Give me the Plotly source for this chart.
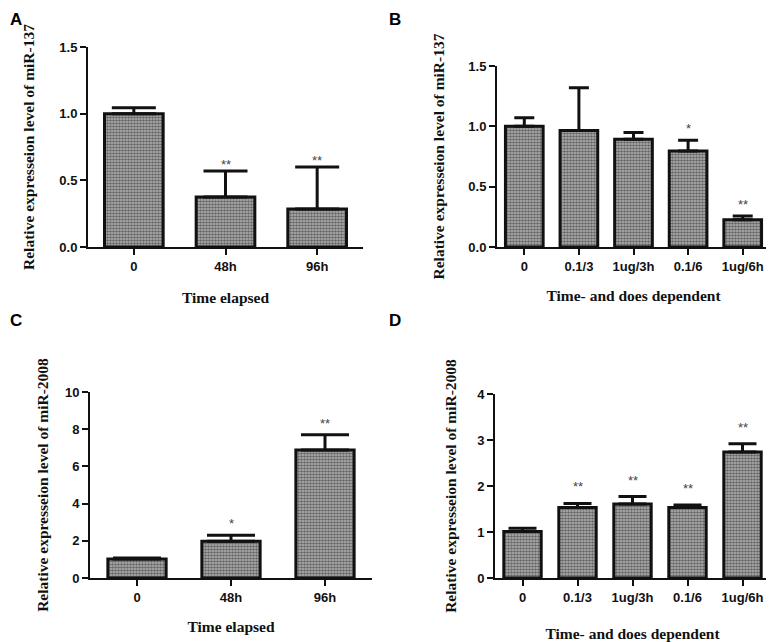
import plotly.graph_objects as go

# ---------------- data ----------------
time_labels = ["0", "48h", "96h"]
dose_labels = ["0", "0.1/3", "1ug/3h", "0.1/6", "1ug/6h"]

a_mean = [1.00, 0.375, 0.285]
a_err = [0.045, 0.195, 0.315]
a_stars = ["", "**", "**"]

b_mean = [1.00, 0.965, 0.893, 0.795, 0.225]
b_err = [0.072, 0.355, 0.055, 0.090, 0.032]
b_stars = ["", "", "", "*", "**"]

c_mean = [1.02, 1.98, 6.88]
c_err = [0.05, 0.32, 0.82]
c_stars = ["", "*", "**"]

d_mean = [1.01, 1.535, 1.61, 1.535, 2.74]
d_err = [0.07, 0.085, 0.16, 0.05, 0.18]
d_stars = ["", "**", "**", "**", "**"]

y_title_137 = "Relative expresseion level of miR-137"
y_title_2008 = "Relative expresseion level of miR-2008"
x_title_time = "Time elapsed"
x_title_dose = "Time- and does dependent"

# ---------------- styling ----------------
PAGE_W, PAGE_H = 774, 642
OFF = 8  # default page body margin
W, H = PAGE_W - OFF, PAGE_H - OFF


def px_dom(a, b):
    return [(a - OFF) / W, (b - OFF) / W]


def py_dom(top, bottom):
    return [1 - (bottom - OFF) / H, 1 - (top - OFF) / H]


panels = [
    dict(x=time_labels, y=a_mean, e=a_err, s=a_stars, xd=px_dom(88, 363), yd=py_dom(47, 247),
         yr=[0, 1.5], dt=0.5, fmt=".1f", yt=y_title_137, xt=x_title_time, bw=0.64, cap=22,
         letter="A", lx=8, ly=8, ystand=21, xstand=20, sshift=-3),
    dict(x=dose_labels, y=b_mean, e=b_err, s=b_stars, xd=px_dom(497, 770), yd=py_dom(66, 247),
         yr=[0, 1.5], dt=0.5, fmt=".1f", yt=y_title_137, xt=x_title_dose, bw=0.69, cap=10,
         letter="B", lx=387, ly=8, ystand=20, xstand=18, sshift=2),
    dict(x=time_labels, y=c_mean, e=c_err, s=c_stars, xd=px_dom(90, 372), yd=py_dom(392, 578),
         yr=[0, 10], dt=2, fmt="d", yt=y_title_2008, xt=x_title_time, bw=0.62, cap=24,
         letter="C", lx=8, ly=309, ystand=13, xstand=18, sshift=2),
    dict(x=dose_labels, y=d_mean, e=d_err, s=d_stars, xd=px_dom(495, 770), yd=py_dom(394, 578),
         yr=[0, 4], dt=1, fmt="d", yt=y_title_2008, xt=x_title_dose, bw=0.68, cap=14,
         letter="D", lx=387, ly=309, ystand=17, xstand=31, sshift=7),
]

fig = go.Figure()
tick_font = dict(family="Liberation Sans, Arial, sans-serif", size=13, color="#111", weight="bold")
title_font = dict(family="Liberation Serif, Times New Roman, serif", size=15.5, color="#111", weight="bold")

annotations = []
for i, p in enumerate(panels, start=1):
    xa = "x" if i == 1 else f"x{i}"
    ya = "y" if i == 1 else f"y{i}"
    fig.add_trace(go.Bar(
        x=p["x"], y=p["y"], xaxis=xa, yaxis=ya, width=p["bw"],
        marker=dict(color="#808080", line=dict(color="#111", width=3),
                    pattern=dict(shape=".", size=3, solidity=0.6, fgcolor="#161616", bgcolor="#b8b8b8")),
        error_y=dict(type="data", array=p["e"], arrayminus=[0] * len(p["e"]), symmetric=False,
                     color="#111", thickness=3, width=p["cap"]),
        showlegend=False,
    ))
    n = len(p["x"])
    fig.layout[f"xaxis{'' if i == 1 else i}"] = dict(
        domain=p["xd"], anchor=ya, range=[-0.5, n - 0.5], automargin=False,
        showline=True, linecolor="#111", linewidth=2, ticks="outside", ticklen=6, tickwidth=2,
        tickcolor="#111", tickfont=tick_font, showgrid=False, zeroline=False,
        title=dict(text=p["xt"], font=title_font, standoff=p["xstand"]),
    )
    fig.layout[f"yaxis{'' if i == 1 else i}"] = dict(
        domain=p["yd"], anchor=xa, range=p["yr"], dtick=p["dt"], tick0=0, tickformat=p["fmt"],
        automargin=False,
        showline=True, linecolor="#111", linewidth=2, ticks="outside", ticklen=6, tickwidth=2,
        tickcolor="#111", tickfont=tick_font, showgrid=False, zeroline=False,
        title=dict(text=p["yt"], font=title_font, standoff=p["ystand"]),
    )
    for cat, m, e, s in zip(p["x"], p["y"], p["e"], p["s"]):
        if s:
            annotations.append(dict(x=cat, y=m + e, xref=xa, yref=ya, text=s, showarrow=False,
                                    yanchor="bottom", yshift=p["sshift"],
                                    font=dict(family="Liberation Sans, Arial, sans-serif", size=13, color="#444")))
    annotations.append(dict(x=(p["lx"] - OFF) / W, y=1 - (p["ly"] - OFF) / H, xref="paper", yref="paper",
                            xanchor="left", yanchor="top", text=p["letter"], showarrow=False,
                            font=dict(family="Liberation Sans, Arial, sans-serif", size=17, color="#000",
                                      weight="bold")))

fig.update_layout(
    width=W, height=H, margin=dict(l=0, r=0, t=0, b=0),
    paper_bgcolor="white", plot_bgcolor="white",
    annotations=annotations, bargap=0.3,
)

fig.write_html("out.html")
